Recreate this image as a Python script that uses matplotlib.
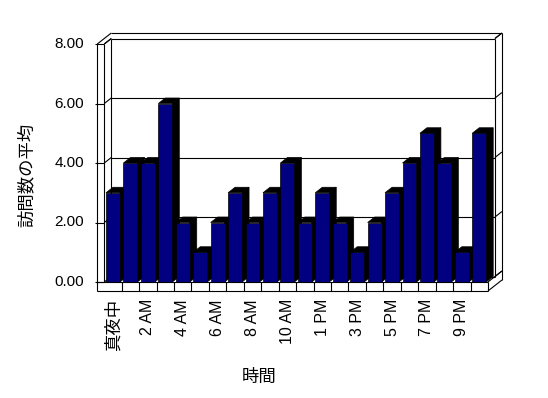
import matplotlib
matplotlib.use('Agg')
import matplotlib.pyplot as plt
from matplotlib.patches import Polygon

plt.rcParams['font.family'] = ['Liberation Sans', 'Noto Sans CJK JP']

# data
hours = ['真夜中', '1 AM', '2 AM', '3 AM', '4 AM', '5 AM', '6 AM', '7 AM', '8 AM',
         '9 AM', '10 AM', '11 AM', '1 PM', '2 PM', '3 PM', '4 PM', '5 PM', '6 PM',
         '7 PM', '8 PM', '9 PM', '10 PM']
visits = [3, 4, 4, 6, 2, 1, 2, 3, 2, 3, 4, 2, 3, 2, 1, 2, 3, 4, 5, 4, 1, 5]
yticks = [0, 2, 4, 6, 8]
ytick_labels = ['0.00', '2.00', '4.00', '6.00', '8.00']
ylabel = '訪問数の平均'
xlabel = '時間'

# pixel layout of the picture (548x398)
W, H = 548, 398
X0, XS = 113, 17.44   # px of first category centre, px per category
Y0, YS = 282, 29.75   # px (from top) of value 0, px per unit
DX, DY = 7 / XS, 5.5 / YS    # depth offset
WT, FT = 7 / XS, 9 / YS      # wall / floor thickness
TK = 2 / XS
LW = 0.8

fig = plt.figure(figsize=(W / 100, H / 100), dpi=100)
ax = fig.add_axes([0, 0, 1, 1])
ax.set_xlim(-X0 / XS, (W - X0) / XS)
ax.set_ylim((Y0 - H) / YS, Y0 / YS)
ax.axis('off')


def seg(x1, y1, x2, y2, z=1):
    ax.plot([x1, x2], [y1, y2], color='black', lw=LW, solid_capstyle='butt', zorder=z)


n = len(visits)
left, right = -0.5, n - 0.5
top = yticks[-1]

# walls
seg(left - WT, -FT, left - WT, top)
seg(left, 0, left, top)
seg(left - WT, top, left - WT + 2 * DX, top + 2 * DY)
seg(left, top, left + DX, top + DY)
seg(left + DX, DY, left + DX, top + DY)
seg(left - WT + 2 * DX, top + 2 * DY, right + 2 * DX, top + 2 * DY)
seg(right + DX, DY, right + DX, top + DY)
seg(right + DX, top + DY, right + 2 * DX, top + 2 * DY)
seg(right + 2 * DX, top + 2 * DY, right + 2 * DX, -FT + 2 * DY)

# gridlines
for v in yticks:
    seg(left - WT - TK, v, left, v)
    seg(left, v, left + DX, v + DY)
    seg(left + DX, v + DY, right + DX, v + DY)
    seg(right + DX, v + DY, right + 2 * DX, v + 2 * DY)

# bars
bars = ax.bar(range(n), visits, width=0.8, color='#000080', edgecolor='black', lw=0.5)
for i, b in enumerate(bars):
    x0, w, h = b.get_x(), b.get_width(), b.get_height()
    top_face = [(x0, h), (x0 + w, h), (x0 + w + DX, h + DY), (x0 + DX, h + DY)]
    side_face = [(x0 + w, 0), (x0 + w + DX, DY), (x0 + w + DX, h + DY), (x0 + w, h)]
    for pts in (top_face, side_face):
        ax.add_patch(Polygon(pts, closed=True, facecolor='black', edgecolor='black',
                             lw=0.5, zorder=3 + 2 * i))
    b.set_zorder(4 + 2 * i)

# floor
z = 3 + 2 * n
seg(left - WT, 0, right, 0, z)
seg(left - WT, -FT, right, -FT, z)
seg(right, -FT, right, 0, z)
for i in range(n - 1):
    seg(i + 0.5, -FT, i + 0.5, 0, z)
seg(right, 0, right + 2 * DX, 2 * DY, z)
seg(right, -FT, right + 2 * DX, -FT + 2 * DY, z)

# labels
for v, lab in zip(yticks, ytick_labels):
    ax.text((84 - X0) / XS, v, lab, ha='right', va='center', fontsize=11)

for i in range(0, n, 2):
    ax.text(i, (Y0 - 299) / YS, hours[i], rotation=90, ha='center', va='top',
            fontsize=12.5 if i == 0 else 11.5)

ax.text((26 - X0) / XS, (Y0 - 175) / YS, ylabel, rotation=90, ha='center', va='center',
        fontsize=12.5)
ax.text((259 - X0) / XS, (Y0 - 377) / YS, xlabel, ha='center', va='center', fontsize=12.5)

fig.savefig('out.png', dpi=100)
